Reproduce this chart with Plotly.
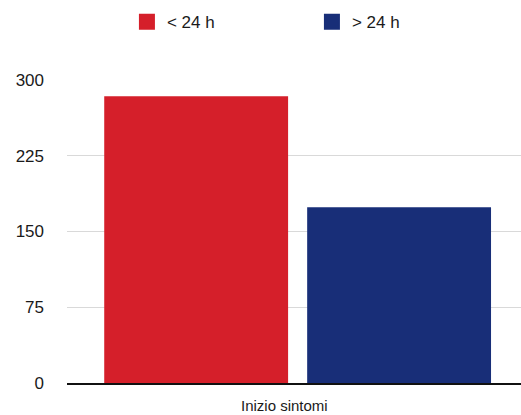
import plotly.graph_objects as go

categories = ["Inizio sintomi"]
series_names = ["< 24 h", "> 24 h"]
series_values = [[284], [174]]
colors = ["#D51F2A", "#182E78"]
y_ticks = [0, 75, 150, 225, 300]

fig = go.Figure()
for name, vals, col in zip(series_names, series_values, colors):
    fig.add_trace(go.Bar(x=categories, y=vals, name=name, showlegend=False,
                         marker=dict(color=col, line=dict(width=0))))
for name, col in zip(series_names, colors):
    fig.add_trace(go.Scatter(x=[None], y=[None], mode="markers", name=name,
                             marker=dict(symbol="square", size=18, color=col, line=dict(width=0))))

fig.update_layout(
    width=521, height=415,
    margin=dict(l=67, r=0, t=80, b=32),
    paper_bgcolor="white", plot_bgcolor="white",
    font=dict(family="Liberation Sans, Arial, sans-serif", size=15, color="#1a1a1a"),
    barmode="group", bargap=0.106, bargroupgap=0.094,
    showlegend=True,
    legend=dict(orientation="h", x=0.132, xanchor="left", y=0.99, yref="container", yanchor="top",
                entrywidth=140, entrywidthmode="pixels", font=dict(size=17),
                itemwidth=30, itemsizing="trace"),
    xaxis=dict(type="category", range=[-0.508, 0.492], showline=True, linecolor="#111",
               linewidth=1.5, ticks="", showgrid=False, showticklabels=False),
    yaxis=dict(range=[0, 300], tickvals=y_ticks, showgrid=True, gridcolor="#d9d9d9",
               gridwidth=1, zeroline=False, showline=False, ticklabelstandoff=22,
               tickfont=dict(size=17)),
    annotations=[dict(text=categories[0], xref="paper", yref="paper", x=0.478, y=0,
                      xanchor="center", yanchor="top", yshift=-12, showarrow=False,
                      font=dict(size=15))],
)
fig.write_html("out.html")
